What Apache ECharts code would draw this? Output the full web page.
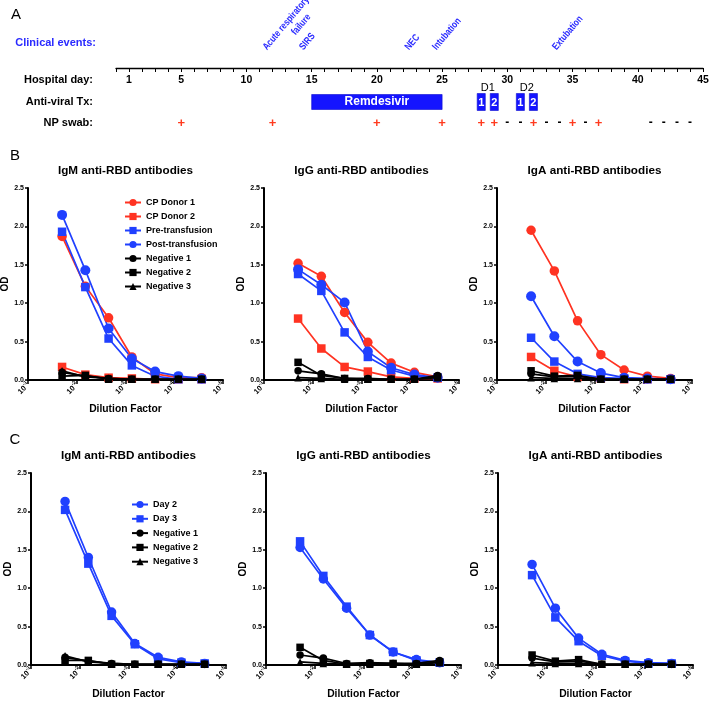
<!DOCTYPE html>
<html>
<head>
<meta charset="utf-8">
<script src="https://cdn.jsdelivr.net/npm/echarts@6/dist/echarts.min.js"></script>
<style>html,body{margin:0;padding:0;background:#fff}#c{width:709px;height:702px}</style>
</head>
<body>
<div id="c"></div>
<script>
// ---------------- DATA ----------------
// Panel A timeline
const hospitalDayLabels = [1, 5, 10, 15, 20, 25, 30, 35, 40, 45];
const eventLabels = ['Acute respiratory', 'failure', 'SIRS', 'NEC', 'Intubation', 'Extubation'];
const eventDays   = [11.7, 13.9, 14.5, 22.6, 24.7, 33.9];
const eventLine   = [0, 1, 0, 0, 0, 0];
const remdesivirDays = [15, 25];
const donorDoseDays   = [28, 29, 31, 32];
const donorDoseLabels = ['1', '2', '1', '2'];
const donorGroupDays   = [28.5, 31.5];
const donorGroupLabels = ['D1', 'D2'];
const swabDays    = [5, 12, 20, 25, 28, 29, 30, 31, 32, 33, 34, 35, 36, 37, 41, 42, 43, 44];
const swabResults = ['+', '+', '+', '+', '+', '+', '-', '-', '+', '-', '-', '+', '-', '+', '-', '-', '-', '-'];

// Panels B and C: dilution factors (3-fold series starting at 1:50)
const dilutions = [1/50, 1/150, 1/450, 1/1350, 1/4050, 1/12150, 1/36450];
const panelTitles = ['IgM anti-RBD antibodies', 'IgG anti-RBD antibodies', 'IgA anti-RBD antibodies'];

// B - IgM
const bIgM_cp1  = [1.87, 1.22, 0.81, 0.30, 0.08, 0.03, 0.03];
const bIgM_cp2  = [0.17, 0.07, 0.03, 0.02, 0.01, 0.01, 0.01];
const bIgM_pre  = [1.93, 1.21, 0.54, 0.19, 0.05, 0.01, 0.01];
const bIgM_post = [2.15, 1.43, 0.67, 0.28, 0.11, 0.05, 0.02];
const bIgM_neg1 = [0.10, 0.05, 0.02, 0.01, 0.01, 0.01, 0.01];
const bIgM_neg2 = [0.05, 0.06, 0.01, 0.01, 0.01, 0.01, 0.01];
const bIgM_neg3 = [0.12, 0.04, 0.02, 0.01, 0.01, 0.01, 0.01];
// B - IgG
const bIgG_cp1  = [1.52, 1.35, 0.88, 0.49, 0.22, 0.10, 0.04];
const bIgG_cp2  = [0.80, 0.41, 0.17, 0.11, 0.04, 0.02, 0.02];
const bIgG_pre  = [1.38, 1.16, 0.62, 0.30, 0.13, 0.05, 0.03];
const bIgG_post = [1.44, 1.24, 1.01, 0.37, 0.16, 0.07, 0.03];
const bIgG_neg1 = [0.12, 0.08, 0.02, 0.02, 0.01, 0.01, 0.06];
const bIgG_neg2 = [0.23, 0.06, 0.02, 0.01, 0.01, 0.01, 0.04];
const bIgG_neg3 = [0.03, 0.02, 0.01, 0.01, 0.01, 0.01, 0.03];
// B - IgA
const bIgA_cp1  = [1.95, 1.42, 0.77, 0.33, 0.13, 0.05, 0.02];
const bIgA_cp2  = [0.30, 0.12, 0.04, 0.02, 0.01, 0.01, 0.01];
const bIgA_pre  = [0.55, 0.24, 0.08, 0.03, 0.02, 0.01, 0.01];
const bIgA_post = [1.09, 0.57, 0.24, 0.09, 0.03, 0.02, 0.01];
const bIgA_neg1 = [0.08, 0.04, 0.05, 0.01, 0.01, 0.01, 0.01];
const bIgA_neg2 = [0.12, 0.05, 0.06, 0.01, 0.01, 0.01, 0.01];
const bIgA_neg3 = [0.03, 0.02, 0.02, 0.01, 0.01, 0.01, 0.01];
// C - IgM
const cIgM_day2 = [2.13, 1.40, 0.69, 0.28, 0.10, 0.04, 0.02];
const cIgM_day3 = [2.02, 1.32, 0.64, 0.27, 0.08, 0.03, 0.02];
const cIgM_neg1 = [0.10, 0.05, 0.02, 0.01, 0.01, 0.01, 0.01];
const cIgM_neg2 = [0.06, 0.06, 0.01, 0.01, 0.01, 0.01, 0.01];
const cIgM_neg3 = [0.12, 0.04, 0.02, 0.01, 0.01, 0.01, 0.01];
// C - IgG
const cIgG_day2 = [1.53, 1.12, 0.74, 0.39, 0.17, 0.07, 0.03];
const cIgG_day3 = [1.61, 1.16, 0.76, 0.39, 0.17, 0.06, 0.03];
const cIgG_neg1 = [0.13, 0.09, 0.02, 0.03, 0.02, 0.02, 0.06];
const cIgG_neg2 = [0.23, 0.06, 0.01, 0.02, 0.02, 0.01, 0.04];
const cIgG_neg3 = [0.04, 0.02, 0.01, 0.01, 0.01, 0.01, 0.03];
// C - IgA
const cIgA_day2 = [1.31, 0.74, 0.35, 0.14, 0.06, 0.03, 0.02];
const cIgA_day3 = [1.17, 0.62, 0.31, 0.12, 0.05, 0.02, 0.02];
const cIgA_neg1 = [0.09, 0.04, 0.05, 0.01, 0.01, 0.01, 0.01];
const cIgA_neg2 = [0.13, 0.05, 0.07, 0.01, 0.01, 0.01, 0.01];
const cIgA_neg3 = [0.03, 0.02, 0.02, 0.01, 0.01, 0.01, 0.01];

// ---------------- STYLE / LAYOUT ----------------
const FONT = "'Liberation Sans', Arial, Helvetica, sans-serif";
const RED = '#ff3322', BLUE = '#2040ff', BLACK = '#000000';
const EVENT_BLUE = '#2a2aff', BOX_BLUE = '#1414ff';

const styleOf = {
  'CP Donor 1':       { color: RED,   symbol: 'circle',   size: 9.5 },
  'CP Donor 2':       { color: RED,   symbol: 'rect',     size: 8.5 },
  'Pre-transfusion':  { color: BLUE,  symbol: 'rect',     size: 8.5 },
  'Post-transfusion': { color: BLUE,  symbol: 'circle',   size: 10 },
  'Day 2':            { color: BLUE,  symbol: 'circle',   size: 9.5 },
  'Day 3':            { color: BLUE,  symbol: 'rect',     size: 8.5 },
  'Negative 1':       { color: BLACK, symbol: 'circle',   size: 7.5 },
  'Negative 2':       { color: BLACK, symbol: 'rect',     size: 7.5 },
  'Negative 3':       { color: BLACK, symbol: 'triangle', size: 7.5 }
};

const panels = [
  { left: 28,  top: 188, series: [['CP Donor 1', bIgM_cp1], ['CP Donor 2', bIgM_cp2], ['Pre-transfusion', bIgM_pre], ['Post-transfusion', bIgM_post], ['Negative 1', bIgM_neg1], ['Negative 2', bIgM_neg2], ['Negative 3', bIgM_neg3]] },
  { left: 264, top: 188, series: [['CP Donor 1', bIgG_cp1], ['CP Donor 2', bIgG_cp2], ['Pre-transfusion', bIgG_pre], ['Post-transfusion', bIgG_post], ['Negative 1', bIgG_neg1], ['Negative 2', bIgG_neg2], ['Negative 3', bIgG_neg3]] },
  { left: 497, top: 188, series: [['CP Donor 1', bIgA_cp1], ['CP Donor 2', bIgA_cp2], ['Pre-transfusion', bIgA_pre], ['Post-transfusion', bIgA_post], ['Negative 1', bIgA_neg1], ['Negative 2', bIgA_neg2], ['Negative 3', bIgA_neg3]] },
  { left: 31,  top: 473, series: [['Day 2', cIgM_day2], ['Day 3', cIgM_day3], ['Negative 1', cIgM_neg1], ['Negative 2', cIgM_neg2], ['Negative 3', cIgM_neg3]] },
  { left: 266, top: 473, series: [['Day 2', cIgG_day2], ['Day 3', cIgG_day3], ['Negative 1', cIgG_neg1], ['Negative 2', cIgG_neg2], ['Negative 3', cIgG_neg3]] },
  { left: 498, top: 473, series: [['Day 2', cIgA_day2], ['Day 3', cIgA_day3], ['Negative 1', cIgA_neg1], ['Negative 2', cIgA_neg2], ['Negative 3', cIgA_neg3]] }
];
const PW = 195, PH = 192;

// timeline layout (y units = px below the axis line)
const TL_LEFT = 116, TL_RIGHT = 6, TL_TOP = 68, TL_H = 55;
const D_LABEL_Y = 20, AV_Y = 34, SWAB_Y = 55, EVENT_BASE_Y = -16, EVENT_LINE_STEP = 15;
const EVENT_ROT = 50 * Math.PI / 180, EVENT_SCALE_X = 0.8;
const BAR_H = 15, DOSE_W = 0.62;

const dayTicks = [];
for (let d = 0; d <= 45; d++) dayTicks.push(d);

// ---------------- OPTION ----------------
const grid = [], xAxis = [], yAxis = [], series = [], title = [];

panels.forEach((p, i) => {
  grid.push({ left: p.left, top: p.top, width: PW, height: PH, outerBoundsMode: 'none', containLabel: false });
  xAxis.push({
    type: 'log', gridIndex: i, min: 1e-5, max: 1e-1, inverse: true, logBase: 10, splitNumber: 4,
    name: 'Dilution Factor', nameLocation: 'middle', nameGap: 24,
    nameTextStyle: { fontFamily: FONT, fontWeight: 'bold', fontSize: 10.3, color: '#000' },
    axisLine: { show: true, lineStyle: { color: '#000', width: 2 } },
    axisTick: { show: true, length: 4, lineStyle: { color: '#000', width: 1.5 } },
    minorTick: { show: false }, splitLine: { show: false },
    axisLabel: {
      rotate: 45, margin: 3, color: '#000',
      formatter: v => '{b|10}{s|' + Math.round(Math.log10(v)) + '}',
      rich: {
        b: { fontFamily: FONT, fontWeight: 'bold', fontSize: 7.5, color: '#000', verticalAlign: 'bottom', lineHeight: 10 },
        s: { fontFamily: FONT, fontWeight: 'bold', fontSize: 5.5, color: '#000', verticalAlign: 'top', lineHeight: 5 }
      }
    }
  });
  yAxis.push({
    type: 'value', gridIndex: i, min: 0, max: 2.5, interval: 0.5,
    name: 'OD', nameLocation: 'middle', nameGap: 15, nameRotate: 90,
    nameTextStyle: { fontFamily: FONT, fontWeight: 'bold', fontSize: 10, color: '#000' },
    axisLine: { show: true, lineStyle: { color: '#000', width: 2 } },
    axisTick: { show: true, length: 3, lineStyle: { color: '#000', width: 1.5 } },
    splitLine: { show: false },
    axisLabel: { margin: 4, fontFamily: FONT, fontWeight: 'bold', fontSize: 7, color: '#000',
      formatter: v => v.toFixed(1) }
  });
  title.push({
    text: panelTitles[i % 3], left: p.left + PW / 2, top: p.top - 23, textAlign: 'center', padding: 0,
    textStyle: { fontFamily: FONT, fontWeight: 'bold', fontSize: 11.7, color: '#000' }
  });
  p.series.forEach(([name, vals]) => {
    const st = styleOf[name];
    series.push({
      type: 'line', name: name, xAxisIndex: i, yAxisIndex: i,
      data: dilutions.map((d, k) => [d, vals[k]]),
      symbol: st.symbol, symbolSize: st.size, showSymbol: true,
      lineStyle: { color: st.color, width: 1.7 },
      itemStyle: { color: st.color },
      z: st.color === BLACK ? 4 : 3, clip: false, animation: false
    });
  });
});

// Timeline grid
const TL = panels.length;
grid.push({ left: TL_LEFT, right: TL_RIGHT, top: TL_TOP, height: TL_H, outerBoundsMode: 'none', containLabel: false });
xAxis.push({
  type: 'value', gridIndex: TL, min: 0, max: 45, interval: 1, position: 'top',
  axisLine: { show: true, onZero: false, lineStyle: { color: '#000', width: 1.3 } },
  axisTick: { show: true, inside: true, length: 4, customValues: dayTicks, lineStyle: { color: '#000', width: 1 } },
  axisLabel: { inside: true, margin: 7, customValues: hospitalDayLabels, fontFamily: FONT, fontWeight: 'bold', fontSize: 10.5, color: '#000' },
  splitLine: { show: false }
});
yAxis.push({ type: 'value', gridIndex: TL, min: 0, max: TL_H, inverse: true, show: false });

series.push({
  type: 'custom', name: 'events', xAxisIndex: TL, yAxisIndex: TL, clip: false, silent: true,
  data: eventDays.map((d, i) => [d, i]),
  renderItem: (params, api) => {
    const i = params.dataIndex;
    const pt = api.coord([api.value(0), EVENT_BASE_Y - eventLine[i] * EVENT_LINE_STEP]);
    return { type: 'text', x: pt[0], y: pt[1], rotation: EVENT_ROT, scaleX: EVENT_SCALE_X,
      style: { text: eventLabels[i], fill: EVENT_BLUE, fontFamily: FONT, fontWeight: 'bold', fontSize: 10, align: 'left', verticalAlign: 'bottom' } };
  }
});
series.push({
  type: 'custom', name: 'remdesivir', xAxisIndex: TL, yAxisIndex: TL, clip: false, silent: true,
  dimensions: ['start', 'end'], encode: { x: [0, 1] },
  data: [remdesivirDays],
  renderItem: (params, api) => {
    const s = api.coord([api.value(0), AV_Y]);
    const e = api.coord([api.value(1), AV_Y]);
    return { type: 'group', children: [
      { type: 'rect', shape: { x: s[0], y: s[1] - BAR_H / 2, width: e[0] - s[0], height: BAR_H }, style: { fill: BOX_BLUE, stroke: '#0a0ad0', lineWidth: 0.6 } },
      { type: 'text', x: (s[0] + e[0]) / 2, y: s[1], style: { text: 'Remdesivir', fill: '#fff', fontFamily: FONT, fontWeight: 'bold', fontSize: 12, align: 'center', verticalAlign: 'middle' } }
    ] };
  }
});
series.push({
  type: 'custom', name: 'doses', xAxisIndex: TL, yAxisIndex: TL, clip: false, silent: true,
  data: donorDoseDays.map((d, i) => [d, i]),
  renderItem: (params, api) => {
    const i = params.dataIndex;
    const c = api.coord([api.value(0), AV_Y]);
    const w = api.size([DOSE_W, 0])[0];
    return { type: 'group', children: [
      { type: 'rect', shape: { x: c[0] - w / 2, y: c[1] - BAR_H / 2 - 1, width: w, height: BAR_H + 2 }, style: { fill: BOX_BLUE, stroke: '#0a0ad0', lineWidth: 0.6 } },
      { type: 'text', x: c[0], y: c[1] + 0.5, style: { text: donorDoseLabels[i], fill: '#fff', fontFamily: FONT, fontWeight: 'bold', fontSize: 11, align: 'center', verticalAlign: 'middle' } }
    ] };
  }
});
series.push({
  type: 'custom', name: 'donors', xAxisIndex: TL, yAxisIndex: TL, clip: false, silent: true,
  data: donorGroupDays.map((d, i) => [d, i]),
  renderItem: (params, api) => {
    const c = api.coord([api.value(0), D_LABEL_Y]);
    return { type: 'text', x: c[0], y: c[1], style: { text: donorGroupLabels[params.dataIndex], fill: '#000', fontFamily: FONT, fontSize: 11, align: 'center', verticalAlign: 'middle' } };
  }
});
series.push({
  type: 'custom', name: 'swabs', xAxisIndex: TL, yAxisIndex: TL, clip: false, silent: true,
  data: swabDays.map((d, i) => [d, i]),
  renderItem: (params, api) => {
    const i = params.dataIndex;
    const c = api.coord([api.value(0), SWAB_Y]);
    const pos = swabResults[i] === '+';
    return { type: 'text', x: c[0], y: c[1], style: { text: swabResults[i], fill: pos ? '#ff3b1f' : '#000', fontFamily: FONT, fontWeight: 'bold', fontSize: pos ? 13 : 12, align: 'center', verticalAlign: 'middle' } };
  }
});

const legendBase = {
  orient: 'vertical', itemWidth: 16, itemHeight: 9, itemGap: 5, padding: 0, selectedMode: false,
  textStyle: { fontFamily: FONT, fontWeight: 'bold', fontSize: 9, color: '#000' }
};
const legend = [
  Object.assign({}, legendBase, { left: 124, top: 198, data: ['CP Donor 1', 'CP Donor 2', 'Pre-transfusion', 'Post-transfusion', 'Negative 1', 'Negative 2', 'Negative 3'] }),
  Object.assign({}, legendBase, { left: 131, top: 500, itemGap: 5.3, data: ['Day 2', 'Day 3', 'Negative 1', 'Negative 2', 'Negative 3'] })
];

const rowLabel = (text, x, y, color, align) => ({
  type: 'text', x: x, y: y, silent: true,
  style: { text: text, fill: color, fontFamily: FONT, fontWeight: 'bold', fontSize: 11, align: align || 'right', verticalAlign: 'middle' }
});
const panelLetter = (text, x, y) => ({
  type: 'text', x: x, y: y, silent: true,
  style: { text: text, fill: '#000', fontFamily: FONT, fontSize: 15, align: 'center', verticalAlign: 'middle' }
});

const option = {
  animation: false,
  backgroundColor: '#fff',
  title: title,
  grid: grid, xAxis: xAxis, yAxis: yAxis, series: series, legend: legend,
  graphic: [
    panelLetter('A', 16, 15), panelLetter('B', 15, 156), panelLetter('C', 15, 440),
    rowLabel('Clinical events:', 96, 43, EVENT_BLUE),
    rowLabel('Hospital day:', 93, 80, '#000'),
    rowLabel('Anti-viral Tx:', 93, 102, '#000'),
    rowLabel('NP swab:', 93, 123, '#000')
  ]
};

const chart = echarts.init(document.getElementById('c'), null, { renderer: 'canvas', width: 709, height: 702 });
chart.setOption(option);
</script>
</body>
</html>
